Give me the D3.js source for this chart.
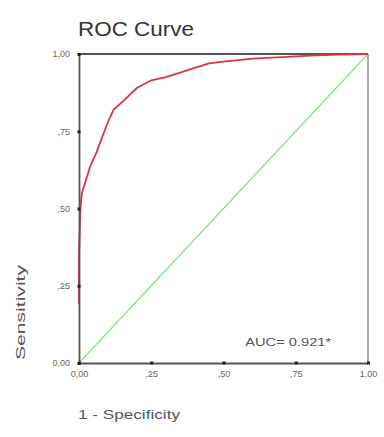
<!DOCTYPE html>
<html><head><meta charset="utf-8">
<script src="https://cdn.jsdelivr.net/npm/d3@7"></script>
<style>body{margin:0;background:#fff}svg{display:block}text{font-family:"Liberation Sans",Arial,sans-serif}</style>
</head><body>
<svg id="c" width="384" height="437"></svg>
<script>
const specificity1 = [0,0,0.005,0.01,0.02,0.04,0.06,0.08,0.10,0.12,0.15,0.20,0.25,0.30,0.35,0.40,0.45,0.50,0.60,0.70,0.80,0.90,1.00];
const sensitivity = [0.19,0.35,0.50,0.55,0.58,0.64,0.68,0.73,0.78,0.82,0.845,0.89,0.915,0.925,0.94,0.955,0.97,0.975,0.985,0.99,0.995,0.998,1.00];
const tickValues = [0,0.25,0.5,0.75,1];
const tickLabels = ["0,00",",25",",50",",75","1,00"];
const aucText = "AUC= 0.921*";

const svg = d3.select("#c");
const x = d3.scaleLinear().domain([0,1]).range([79,368]);
const y = d3.scaleLinear().domain([0,1]).range([363,54]);

svg.append("text").attr("x",78).attr("y",36).attr("font-size",21).attr("fill","#333")
  .attr("textLength",116).attr("lengthAdjust","spacingAndGlyphs").text("ROC Curve");

// frame
svg.append("line").attr("x1",x(1)).attr("x2",x(1)).attr("y1",y(1)).attr("y2",y(0)).attr("stroke","#aaa").attr("stroke-width",2);
svg.append("line").attr("x1",x(0)).attr("x2",x(1)).attr("y1",y(1)).attr("y2",y(1)).attr("stroke","#555").attr("stroke-width",1.8);

// diagonal
svg.append("line").attr("x1",x(0)).attr("y1",y(0)).attr("x2",x(1)).attr("y2",y(1)).attr("stroke","#8ee08e").attr("stroke-width",1.4);

// curve
const pts = specificity1.map((d,i)=>[d,sensitivity[i]]);
svg.append("path").datum(pts).attr("fill","none").attr("stroke","#d8344c").attr("stroke-width",1.8)
  .attr("d", d3.line().x(d=>x(d[0])).y(d=>y(d[1])));

// axes
const xa = svg.append("g").attr("transform",`translate(0,${y(0)})`)
  .call(d3.axisBottom(x).tickValues(tickValues).tickFormat((d,i)=>tickLabels[i]).tickSize(0).tickPadding(8));
const ya = svg.append("g").attr("transform",`translate(${x(0)},0)`)
  .call(d3.axisLeft(y).tickValues(tickValues).tickFormat((d,i)=>tickLabels[i]).tickSize(0).tickPadding(9));
[xa,ya].forEach(g=>{
  g.select(".domain").attr("stroke","#555").attr("stroke-width",1.8);
  g.selectAll(".tick text").attr("font-size",9).attr("fill","#666").attr("font-family","Liberation Sans, Arial, sans-serif");
  g.selectAll(".tick").append("rect").attr("x",-1.5).attr("y",-1.5).attr("width",3).attr("height",3).attr("fill","#222");
});

svg.append("text").attr("x",x(0.575)).attr("y",346).attr("font-size",11).attr("fill","#555")
  .attr("textLength",86).attr("lengthAdjust","spacingAndGlyphs").text(aucText);

svg.append("text").attr("x",78).attr("y",419).attr("font-size",13).attr("fill","#555")
  .attr("textLength",102).attr("lengthAdjust","spacingAndGlyphs").text("1 - Specificity");
svg.append("text").attr("transform","translate(25,360) rotate(-90)").attr("font-size",13).attr("fill","#555")
  .attr("textLength",95).attr("lengthAdjust","spacingAndGlyphs").text("Sensitivity");
</script>
</body></html>
